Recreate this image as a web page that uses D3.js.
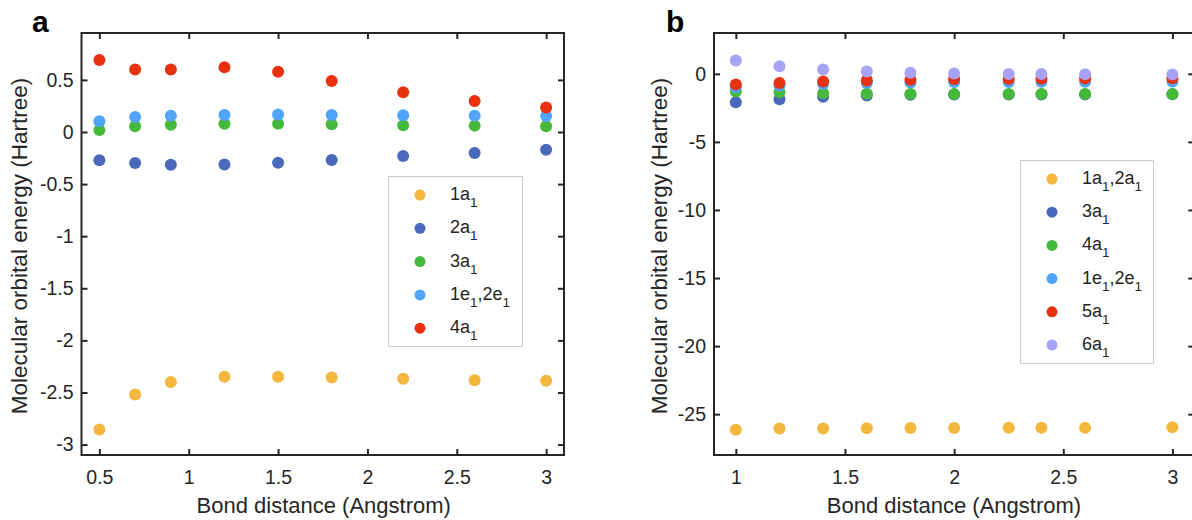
<!DOCTYPE html>
<html>
<head>
<meta charset="utf-8">
<script src="https://cdn.jsdelivr.net/npm/d3@7"></script>
<style>
  html, body { margin: 0; padding: 0; background: #fff; }
  svg { display: block; font-family: "Liberation Sans", Arial, Helvetica, sans-serif; }
</style>
</head>
<body>
<svg id="chart" width="1192" height="520"></svg>
<script>
// ---------- Panel a data ----------
const xA = [0.5, 0.7, 0.9, 1.2, 1.5, 1.8, 2.2, 2.6, 3.0];
const a_1a1 = [-2.856, -2.519, -2.40, -2.349, -2.349, -2.356, -2.369, -2.382, -2.388];
const a_2a1 = [-0.272, -0.298, -0.314, -0.311, -0.295, -0.269, -0.231, -0.202, -0.170];
const a_3a1 = [0.019, 0.055, 0.070, 0.080, 0.080, 0.074, 0.064, 0.061, 0.055];
const a_1e1 = [0.103, 0.144, 0.157, 0.163, 0.167, 0.163, 0.160, 0.157, 0.154];
const a_4a1 = [0.690, 0.600, 0.600, 0.622, 0.577, 0.490, 0.382, 0.298, 0.234];
const xTicksA = [0.5, 1, 1.5, 2, 2.5, 3];
const yTicksA = [0.5, 0, -0.5, -1, -1.5, -2, -2.5, -3];

// ---------- Panel b data ----------
const xB = [1.0, 1.2, 1.4, 1.6, 1.8, 2.0, 2.25, 2.4, 2.6, 3.0];
const b_1a1 = [-26.14, -26.06, -26.06, -26.04, -26.02, -26.02, -25.99, -25.99, -25.99, -25.97];
const b_3a1 = [-2.08, -1.86, -1.68, -1.59, -1.54, -1.52, -1.51, -1.51, -1.51, -1.50];
const b_4a1 = [-1.30, -1.36, -1.42, -1.46, -1.48, -1.49, -1.48, -1.48, -1.48, -1.48];
const b_1e1 = [-0.98, -0.85, -0.74, -0.67, -0.63, -0.60, -0.60, -0.59, -0.58, -0.57];
const b_5a1 = [-0.79, -0.67, -0.57, -0.49, -0.43, -0.38, -0.37, -0.36, -0.35, -0.33];
const b_6a1 = [0.98, 0.56, 0.32, 0.18, 0.08, 0.02, -0.02, -0.02, -0.03, -0.05];
const xTicksB = [1, 1.5, 2, 2.5, 3];
const yTicksB = [0, -5, -10, -15, -20, -25];

const colors = {
  yellow: "#F4B73E",
  blue: "#4A69BD",
  green: "#45B93A",
  lightblue: "#50A4FA",
  red: "#E8310F",
  purple: "#A8A2F6"
};

const seriesA = [
  { parts: [["1a", "1"]], values: a_1a1, color: colors.yellow },
  { parts: [["2a", "1"]], values: a_2a1, color: colors.blue },
  { parts: [["3a", "1"]], values: a_3a1, color: colors.green },
  { parts: [["1e", "1"], [",2e", "1"]], values: a_1e1, color: colors.lightblue },
  { parts: [["4a", "1"]], values: a_4a1, color: colors.red }
];
const seriesB = [
  { parts: [["1a", "1"], [",2a", "1"]], values: b_1a1, color: colors.yellow },
  { parts: [["3a", "1"]], values: b_3a1, color: colors.blue },
  { parts: [["4a", "1"]], values: b_4a1, color: colors.green },
  { parts: [["1e", "1"], [",2e", "1"]], values: b_1e1, color: colors.lightblue },
  { parts: [["5a", "1"]], values: b_5a1, color: colors.red },
  { parts: [["6a", "1"]], values: b_6a1, color: colors.purple }
];

const svg = d3.select("#chart");
const axisColor = "#262626";
const fmt = d => String(d);

function drawPanel(cfg) {
  const { x, y, xs, series, xTicks, yTicks, label, legend } = cfg;
  const g = svg.append("g");
  const [x0, x1] = x.range();
  const [y0, y1] = y.range(); // y0 bottom, y1 top

  const clipId = "clip" + label;
  svg.append("clipPath").attr("id", clipId)
    .append("rect").attr("x", x0).attr("y", y1).attr("width", x1 - x0).attr("height", y0 - y1);

  const pts = g.append("g").attr("clip-path", `url(#${clipId})`);
  series.forEach(s => {
    pts.selectAll(null).data(s.values.map((v, i) => [xs[i], v]))
      .enter().append("circle")
      .attr("cx", d => x(d[0])).attr("cy", d => y(d[1]))
      .attr("r", 6).attr("fill", s.color);
  });

  const tickLen = 6;
  const bottom = g.append("g").attr("transform", `translate(0,${y0})`)
    .call(d3.axisBottom(x).tickValues(xTicks).tickSizeInner(-tickLen).tickSizeOuter(0).tickPadding(15).tickFormat(fmt));
  const top = g.append("g").attr("transform", `translate(0,${y1})`)
    .call(d3.axisTop(x).tickValues(xTicks).tickSizeInner(-tickLen).tickSizeOuter(0).tickFormat(""));
  const left = g.append("g").attr("transform", `translate(${x0},0)`)
    .call(d3.axisLeft(y).tickValues(yTicks).tickSizeInner(-tickLen).tickSizeOuter(0).tickPadding(8).tickFormat(fmt));
  const right = g.append("g").attr("transform", `translate(${x1},0)`)
    .call(d3.axisRight(y).tickValues(yTicks).tickSizeInner(-tickLen).tickSizeOuter(0).tickFormat(""));
  [top, right].forEach(a => a.selectAll(".tick text").remove());
  [bottom, top, left, right].forEach(a => {
    a.select(".domain").remove();
    a.selectAll(".tick line").attr("stroke", axisColor).attr("stroke-width", 2);
    a.selectAll(".tick text").attr("fill", axisColor).attr("font-size", 19.5)
      .attr("font-family", "Liberation Sans, Arial, sans-serif");
  });
  g.append("rect").attr("x", x0).attr("y", y1).attr("width", x1 - x0).attr("height", y0 - y1)
    .attr("fill", "none").attr("stroke", axisColor).attr("stroke-width", 2);

  g.append("text").attr("x", (x0 + Math.min(x1, 1192)) / 2 + 1).attr("y", 513)
    .attr("text-anchor", "middle").attr("font-size", 22).attr("fill", axisColor)
    .text("Bond distance (Angstrom)");
  g.append("text")
    .attr("transform", `translate(${cfg.yTitleX},${(y0 + y1) / 2 + 2}) rotate(-90)`)
    .attr("text-anchor", "middle").attr("font-size", 22.5).attr("fill", axisColor)
    .text("Molecular orbital energy (Hartree)");

  g.append("text").attr("x", cfg.labelX).attr("y", 32)
    .attr("font-size", 30).attr("font-weight", "bold").attr("fill", "#000").text(label);

  const L = legend;
  g.append("rect").attr("x", L.x).attr("y", L.y).attr("width", L.w).attr("height", L.h)
    .attr("fill", "#fff").attr("stroke", "#C9CDD2").attr("stroke-width", 1);
  series.forEach((s, i) => {
    const cy = L.firstY + i * L.step;
    g.append("circle").attr("cx", L.markerX).attr("cy", cy).attr("r", 5.5).attr("fill", s.color);
    const t = g.append("text").attr("x", L.textX).attr("y", cy + 5)
      .attr("font-size", 18).attr("fill", axisColor);
    s.parts.forEach((p, j) => {
      t.append("tspan").attr("dy", j === 0 ? 0 : -7).text(p[0]);
      t.append("tspan").attr("font-size", 13.5).attr("dy", 7).text(p[1]);
    });
  });
}

const xa = d3.scaleLinear().domain([0.4, 3.1]).range([81.5, 564]);
const ya = d3.scaleLinear().domain([-3.1, 0.95]).range([455, 33]);
drawPanel({
  x: xa, y: ya, xs: xA, series: seriesA, xTicks: xTicksA, yTicks: yTicksA,
  label: "a", labelX: 32, yTitleX: 27,
  legend: { x: 388.5, y: 176.5, w: 134, h: 170, markerX: 420, textX: 450, firstY: 195, step: 33.3 }
});

const xb = d3.scaleLinear().domain([0.9, 3.1]).range([714, 714 + 2.2 * 218.3]);
const yb = d3.scaleLinear().domain([-28, 3]).range([455, 33]);
drawPanel({
  x: xb, y: yb, xs: xB, series: seriesB, xTicks: xTicksB, yTicks: yTicksB,
  label: "b", labelX: 666, yTitleX: 667,
  legend: { x: 1020.5, y: 160.5, w: 133, h: 203, markerX: 1052, textX: 1082, firstY: 179, step: 33.2 }
});
</script>
</body>
</html>
